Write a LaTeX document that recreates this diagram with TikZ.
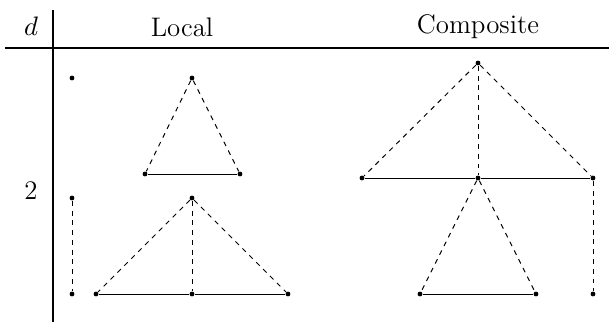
\documentclass[tikz,border=0pt]{standalone}
\usepackage{tikz}

\begin{document}
\begin{tikzpicture}[x=0.0144cm, y=-0.0144cm, font=\fontsize{11}{13}\selectfont,
    punto/.style={circle, fill=black, inner sep=0pt, minimum size=2pt},
    rama/.style={thin, dash pattern=on 2pt off 2pt},
    base/.style={thin},
    tabla/.style={line width=1pt}]

    \useasboundingbox (0,0) rectangle (609,324);

    % tabla
    \draw[tabla] (5,48) -- (609,48);
    \draw[tabla] (53,10) -- (53,322);
    \node (d) at (31,26) {$d$};
    \node (local) at (182,27) {Local};
    \node (comp) at (478,27) {Composite};
    \node (dos) at (31,191) {2};

    % local: fila de arriba
    \node[punto] (la) at (72,78) {};
    \node[punto] (lt) at (192,78) {};
    \node[punto] (ll) at (145,174) {};
    \node[punto] (lr) at (240,174) {};
    \draw[rama] (lt) -- (ll);
    \draw[rama] (lt) -- (lr);
    \draw[base] (ll) -- (lr);

    % local: fila de abajo
    \node[punto] (va) at (72,198) {};
    \node[punto] (vb) at (72,294) {};
    \draw[rama] (va) -- (vb);
    \node[punto] (bt) at (192,198) {};
    \node[punto] (bl) at (96,294) {};
    \node[punto] (bm) at (192,294) {};
    \node[punto] (br) at (288,294) {};
    \foreach \n in {bl,bm,br}
        \draw[rama] (bt) -- (\n);
    \draw[base] (bl) -- (bm) -- (br);

    % composite
    \node[punto] (ct) at (478,63) {};
    \node[punto] (cl) at (362,178) {};
    \node[punto] (cm) at (478,178) {};
    \node[punto] (cr) at (593,178) {};
    \foreach \n in {cl,cm,cr}
        \draw[rama] (ct) -- (\n);
    \draw[base] (cl) -- (cm) -- (cr);
    \node[punto] (sl) at (420,294) {};
    \node[punto] (sr) at (536,294) {};
    \node[punto] (sv) at (593,294) {};
    \draw[rama] (cm) -- (sl);
    \draw[rama] (cm) -- (sr);
    \draw[base] (sl) -- (sr);
    \draw[rama] (cr) -- (sv);

\end{tikzpicture}
\end{document}
